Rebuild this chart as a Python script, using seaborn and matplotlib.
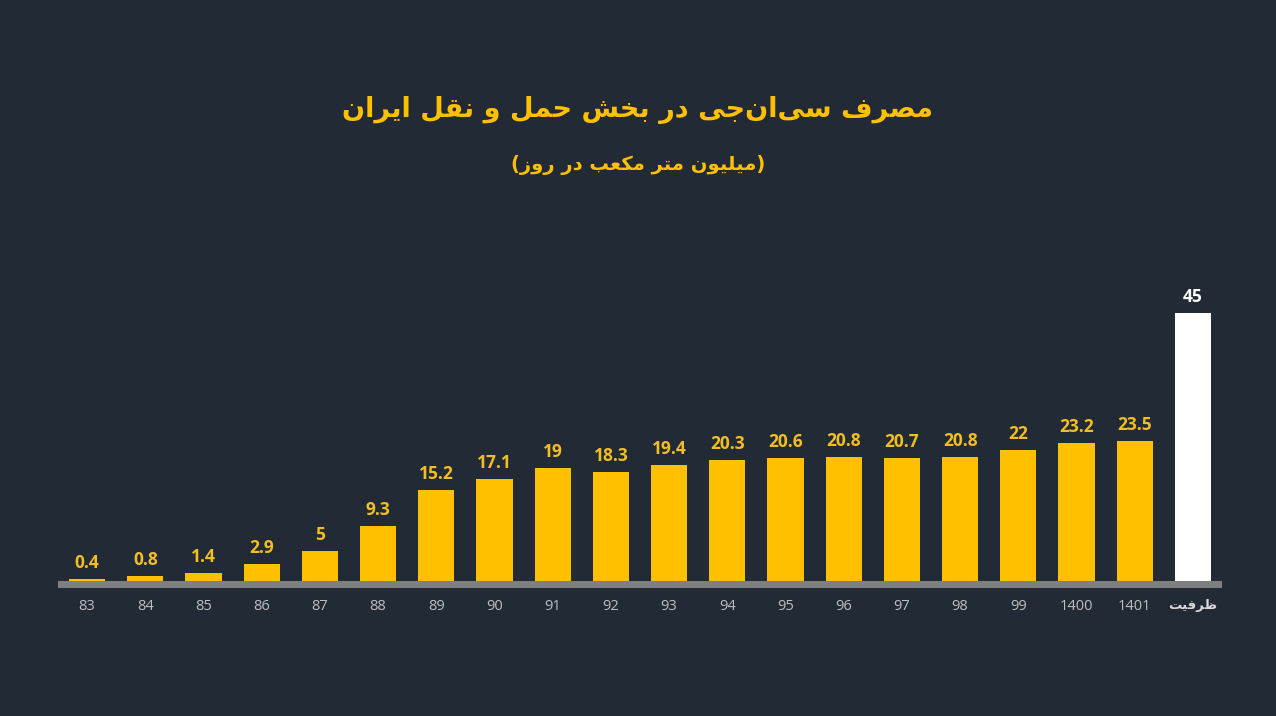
import matplotlib
matplotlib.use("Agg")
import matplotlib.pyplot as plt
import seaborn as sns
import pandas as pd

# data
years = ['83', '84', '85', '86', '87', '88', '89', '90', '91', '92', '93',
         '94', '95', '96', '97', '98', '99', '1400', '1401', 'ظرفیت']
values = [0.4, 0.8, 1.4, 2.9, 5, 9.3, 15.2, 17.1, 19, 18.3, 19.4,
          20.3, 20.6, 20.8, 20.7, 20.8, 22, 23.2, 23.5, 45]
title_text = 'مصرف سی\u200cان\u200cجی در بخش حمل و نقل ایران'
subtitle_text = '(میلیون متر مکعب در روز)'

bg = '#222a35'
yellow = '#ffc000'

# minimal persian shaping (matplotlib has no arabic shaping / bidi)
forms = {
    'ا': ('\ufe8d', '\ufe8e'), 'د': ('\ufea9', '\ufeaa'), 'ر': ('\ufead', '\ufeae'),
    'ز': ('\ufeaf', '\ufeb0'), 'و': ('\ufeed', '\ufeee'),
    'ب': ('\ufe8f', '\ufe90', '\ufe91', '\ufe92'), 'ت': ('\ufe95', '\ufe96', '\ufe97', '\ufe98'),
    'ج': ('\ufe9d', '\ufe9e', '\ufe9f', '\ufea0'), 'ح': ('\ufea1', '\ufea2', '\ufea3', '\ufea4'),
    'خ': ('\ufea5', '\ufea6', '\ufea7', '\ufea8'), 'س': ('\ufeb1', '\ufeb2', '\ufeb3', '\ufeb4'),
    'ش': ('\ufeb5', '\ufeb6', '\ufeb7', '\ufeb8'), 'ص': ('\ufeb9', '\ufeba', '\ufebb', '\ufebc'),
    'ظ': ('\ufec5', '\ufec6', '\ufec7', '\ufec8'), 'ع': ('\ufec9', '\ufeca', '\ufecb', '\ufecc'),
    'ف': ('\ufed1', '\ufed2', '\ufed3', '\ufed4'), 'ق': ('\ufed5', '\ufed6', '\ufed7', '\ufed8'),
    'ل': ('\ufedd', '\ufede', '\ufedf', '\ufee0'), 'م': ('\ufee1', '\ufee2', '\ufee3', '\ufee4'),
    'ن': ('\ufee5', '\ufee6', '\ufee7', '\ufee8'), 'ی': ('\ufbfc', '\ufbfd', '\ufbfe', '\ufbff'),
    'ک': ('\ufb8e', '\ufb8f', '\ufb90', '\ufb91'),
}


def shape(text):
    if not any(c in forms for c in text):
        return text
    out = []
    for i, c in enumerate(text):
        if c == '\u200c':
            continue
        if c not in forms:
            out.append({'(': ')', ')': '('}.get(c, c))
            continue
        prev = text[i - 1] if i > 0 else ''
        nxt = text[i + 1] if i + 1 < len(text) else ''
        join_prev = prev in forms and len(forms[prev]) == 4
        join_next = len(forms[c]) == 4 and nxt in forms
        f = forms[c]
        if join_prev and join_next:
            out.append(f[3])
        elif join_prev:
            out.append(f[1])
        elif join_next:
            out.append(f[2])
        else:
            out.append(f[0])
    return ''.join(reversed(out))


df = pd.DataFrame({'year': years, 'value': values})
colors = [yellow] * (len(years) - 1) + ['#ffffff']

sns.set_theme(style='white')
plt.rcParams['font.family'] = ['Open Sans', 'DejaVu Sans']

fig = plt.figure(figsize=(12.76, 7.16), dpi=100, facecolor=bg)
ax = fig.add_axes([58 / 1276, 128 / 716, 1164 / 1276, 338 / 716])
ax.set_facecolor(bg)

sns.barplot(data=df, x='year', y='value', hue='year', palette=colors,
            width=0.62, legend=False, ax=ax, zorder=3, saturation=1, linewidth=0)

ax.set_xlim(-0.5, 19.5)
ax.set_ylim(-1.17, 55.5)
ax.axhspan(-1.17, 0, color='#7f7f7f', zorder=2, lw=0)

for i, cont in enumerate(ax.containers):
    lab_color = '#ffffff' if i == len(ax.containers) - 1 else '#f2be22'
    ax.bar_label(cont, fmt='{:g}', padding=5, color=lab_color,
                 fontsize=12.5, fontweight='bold')

ax.set_xticks(range(len(years)))
ax.set_xticklabels([shape(y) for y in years])
for i, t in enumerate(ax.get_xticklabels()):
    t.set_color('#bfbfbf')
    t.set_fontsize(10.5)
    if i == len(years) - 1:
        t.set_fontweight('bold')
        t.set_color('#d9d9d9')
        t.set_fontsize(9.5)
        t.set_family(['DejaVu Sans'])
ax.tick_params(axis='x', length=0, pad=8)
ax.set_yticks([])
ax.set_xlabel('')
ax.set_ylabel('')
for s in ax.spines.values():
    s.set_visible(False)

fig.text(0.5, 1 - 110 / 716, shape(title_text), ha='center', va='center',
         color=yellow, fontsize=19.5, fontweight='bold', family=['DejaVu Sans'])
fig.text(0.5, 1 - 165 / 716, shape(subtitle_text), ha='center', va='center',
         color=yellow, fontsize=14, fontweight='bold', family=['DejaVu Sans'])

fig.savefig('out.png', dpi=100, facecolor=bg)
